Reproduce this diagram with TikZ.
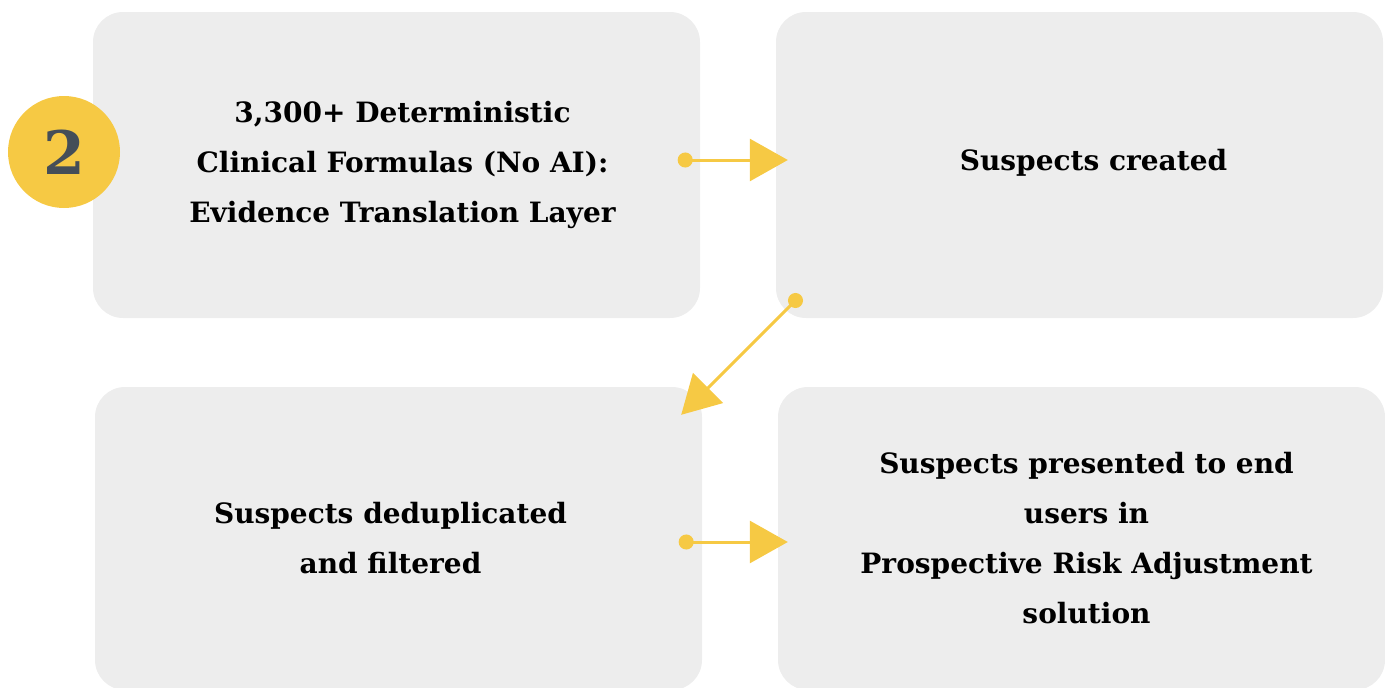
\documentclass[tikz,border=0pt]{standalone}
\usepackage{fontspec}
\setmainfont{DejaVu Serif}
\usetikzlibrary{arrows.meta}
\definecolor{boxgray}{HTML}{EDEDED}
\definecolor{accent}{HTML}{F6C944}
\definecolor{numgray}{HTML}{444E58}
\tikzset{
  x=1pt, y=-1pt,
  card/.style={fill=boxgray, rounded corners=30pt, inner sep=0pt, minimum width=607pt},
  cardtext/.style={inner sep=0pt, align=center,
    font=\bfseries\fontsize{28}{50}\selectfont, text=black},
  flow/.style={draw=accent, line width=3pt,
    {Circle[length=15pt,fill=accent]}-{Triangle[length=38pt,width=42pt,fill=accent]}}
}
\begin{document}
\begin{tikzpicture}
\useasboundingbox (0,0) rectangle (1385,688);
\clip (0,0) rectangle (1385,688);
\node[card, minimum height=306pt] (b1) at (396.5,165) {};
\node[card, minimum height=306pt] (b2) at (1079.5,165) {};
\node[card, minimum height=303pt] (b3) at (398.5,538.5) {};
\node[card, minimum height=303pt] (b4) at (1081.5,538.5) {};
\node[cardtext] (t1) at ([xshift=6pt]b1) {3,300+ Deterministic\\Clinical Formulas (No AI):\\Evidence Translation Layer};
\node[cardtext] (t2) at ([xshift=14pt,yshift=2pt]b2) {Suspects created};
\node[cardtext] (t3) at ([xshift=-8pt]b3) {Suspects deduplicated\\and filtered};
\node[cardtext] (t4) at ([xshift=5pt]b4) {Suspects presented to end\\users in\\Prospective Risk Adjustment\\solution};
\node[circle, fill=accent, minimum size=112pt, inner sep=0pt, text=numgray,
  font=\bfseries\fontsize{60}{60}\selectfont] (num) at (64,152) {2};
\coordinate (a1s) at ([xshift=-22.5pt,yshift=5pt]b1.east);
\coordinate (a1e) at ([xshift=12pt,yshift=5pt]b2.west);
\coordinate (a2s) at ([xshift=25pt,yshift=23pt]b2.south west);
\coordinate (a2e) at ([xshift=-21pt,yshift=-28pt]b3.north east);
\coordinate (a3s) at ([xshift=-23.5pt,yshift=-3.5pt]b3.east);
\coordinate (a3e) at ([xshift=10pt,yshift=-3.5pt]b4.west);
\draw[flow] (a1s) -- (a1e);
\draw[flow] (a2s) -- (a2e);
\draw[flow] (a3s) -- (a3e);
\end{tikzpicture}
\end{document}
